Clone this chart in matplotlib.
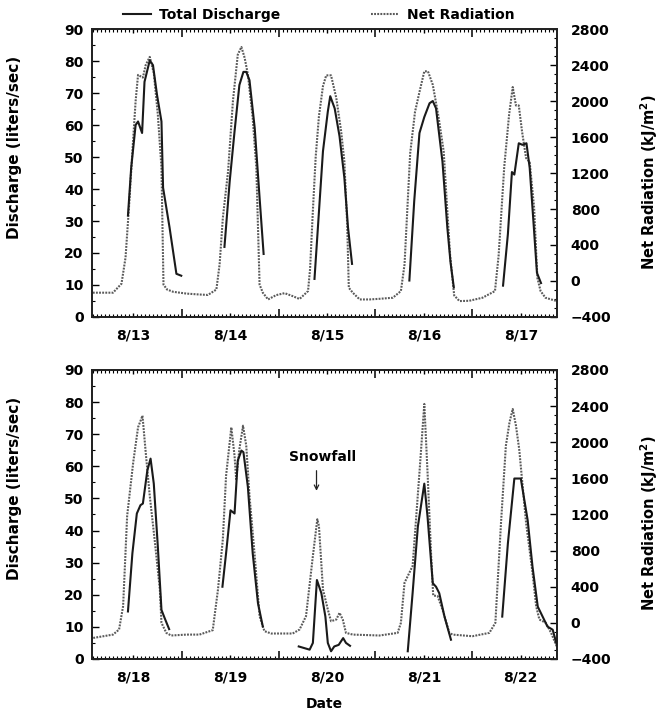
import numpy as np
import matplotlib
matplotlib.use("Agg")
import matplotlib.pyplot as plt
from matplotlib.ticker import MultipleLocator, FixedLocator
from matplotlib.lines import Line2D

plt.rcParams['font.family'] = ['DejaVu Sans']
plt.rcParams['font.weight'] = 'bold'

nan = np.nan

# ---------------- Top panel (8/13 - 8/17), hours from 8/13 00:00 ----------------
top_rad_hours = [2.0, 7.0, 9.1, 10.1, 11.0, 11.8, 12.6, 13.2, 14.4, 15.1, 16.1, 17.1, 18.1, 19.0, 19.5,
                 20.4, 21.9, 25.2, 28.4, 30.5, 32.6, 33.4, 34.2, 35.5, 36.7, 37.9, 38.8, 39.6, 40.4,
                 41.6, 42.5, 43.3, 44.1, 45.4, 47.4, 49.5, 51.5, 53.2, 55.3, 55.8, 56.5, 57.2, 58.0,
                 59.0, 59.8, 61.0, 62.3, 63.5, 64.3, 65.0, 65.4, 66.4, 68.1, 70.5, 73.0, 76.3, 78.3,
                 79.2, 80.6, 81.8, 82.9, 84.1, 85.0, 86.2, 87.6, 88.9, 89.6, 90.5, 91.5, 92.8, 95.2,
                 98.5, 101.6, 102.5, 103.9, 105.1, 106.0, 106.8, 107.5, 108.3, 109.3, 110.2, 111.3,
                 112.1, 112.9, 114.1, 116.9]
top_rad_vals = [-130, -130, -30, 260, 850, 1440, 2000, 2290, 2260, 2400, 2490, 2310, 1850, 1260, -40,
                -95, -120, -140, -150, -155, -95, 185, 700, 1220, 2000, 2515, 2600, 2480, 2295,
                1810, 1256, -40, -130, -205, -157, -135, -168, -200, -112, 130, 780, 1380, 1830,
                2165, 2285, 2285, 2033, 1663, 1330, 627, -75, -131, -205, -205, -198, -186, -112,
                183, 1420, 1880, 2100, 2330, 2330, 2180, 1830, 1440, 923, 280, -160, -223, -220,
                -186, -112, 280, 1270, 1848, 2155, 1950, 1950, 1663, 1367, 1320, 812,
                35, -112, -186, -223]

top_q_hours = [10.7, 11.5, 12.6, 13.2, 14.2, 14.8, 16.1, 16.9, 17.9, 19.0, 19.4, 21.0, 22.7, 23.9, nan,
               34.6, 35.9, 37.1, 38.3, 39.3, 40.0, 40.8, 42.1, 43.3, 44.3, nan,
               56.9, 59.0, 60.2, 60.8, 61.9, 63.1, 64.3, 65.2, 66.2, nan,
               80.4, 81.6, 82.9, 84.1, 85.4, 86.2, 87.0, 88.6, 89.8, 90.6, 91.4, nan,
               103.6, 104.8, 105.8, 106.4, 107.5, 108.4, 109.4, 110.2, 111.2, 112.0, 113.0]
top_q_vals = [31.7, 46.6, 60.0, 61.1, 57.5, 73.5, 80.2, 78.7, 69.4, 61.1, 40.4, 28.0, 13.5, 12.9, nan,
              21.9, 42.4, 58.0, 72.5, 76.6, 76.6, 74.0, 59.0, 37.3, 19.7, nan,
              11.9, 51.8, 64.2, 69.0, 65.2, 56.5, 43.5, 28.0, 16.6, nan,
              11.4, 36.2, 57.5, 62.5, 66.8, 67.5, 65.2, 48.5, 28.0, 17.0, 9.3, nan,
              9.8, 25.9, 45.3, 44.5, 54.3, 53.8, 54.3, 46.6, 28.5, 13.8, 10.6]

# ---------------- Bottom panel (8/18 - 8/22), hours from 8/18 00:00 ----------------
bot_rad_hours = [2.1, 7.0, 8.5, 9.5, 10.5, 12.0, 13.2, 14.3, 15.1, 16.1, 17.3, 18.6, 19.0, 20.2, 21.4,
                 25.2, 28.4, 31.7, 33.0, 34.2, 35.0, 36.3, 37.1, 37.5, 38.3, 39.2, 40.0, 40.8, 42.1,
                 43.3, 44.5, 46.2, 51.5, 53.2, 54.8, 56.5, 57.6, 58.0, 59.0, 60.2, 61.0, 62.3, 63.1,
                 63.9, 64.7, 66.4, 73.0, 77.5, 78.3, 79.2, 81.2, 82.9, 84.1, 84.9, 85.8, 86.3, 87.4,
                 88.6, 90.3, 91.1, 96.0, 100.2, 101.7, 103.1, 104.3, 105.2, 106.0, 106.8, 107.6,
                 109.3, 110.9, 111.8, 112.6, 114.2, 115.5, 116.9]
bot_rad_vals = [-167, -130, -74, 185, 1184, 1776, 2165, 2294, 1887, 1406, 925, 370, 0, -111, -140,
                -130, -130, -81, 370, 925, 1628, 2165, 1850, 1591, 1924, 2183, 1961, 1406, 740,
                74, -92, -118, -118, -74, 74, 740, 1147, 1073, 370, 148, 18, 37, 111,
                37, -111, -130, -140, -111, 0, 444, 629, 1665, 2424, 1665, 740, 303, 296,
                148, -111, -130, -148, -111, 0, 1110, 1961, 2220, 2368, 2183, 1924,
                1110, 555, 185, 37, 0, -111, -260]

bot_q_hours = [10.7, 11.8, 12.9, 13.8, 14.4, 15.5, 16.3, 17.1, 18.1, 19.0, 19.8, 20.9, nan,
               34.1, 35.0, 36.1, 37.1, 37.9, 38.8, 39.3, 40.4, 41.6, 42.9, 44.1, nan,
               53.0, 55.7, 56.5, 57.5, 58.6, 59.6, 60.2, 61.0, 61.8, 62.9, 64.0, 64.7, 65.7, nan,
               80.0, 81.2, 82.5, 84.1, 84.9, 86.2, 87.0, 87.8, 89.1, 90.7, nan,
               103.4, 104.8, 106.4, 108.0, 109.7, 110.9, 112.2, 113.4, 114.6, 115.9, 116.9]
bot_q_vals = [14.8, 32.9, 45.3, 47.9, 48.4, 58.7, 62.4, 54.6, 35.0, 15.3, 12.7, 9.3, nan,
              22.5, 32.9, 46.3, 45.3, 61.8, 64.9, 64.4, 53.6, 32.9, 17.4, 10.1, nan,
              3.9, 2.9, 5.0, 24.6, 20.5, 13.2, 5.0, 2.4, 3.9, 4.4, 6.5, 5.0, 4.1, nan,
              2.4, 20.5, 41.2, 54.6, 44.3, 23.6, 22.5, 20.5, 13.2, 6.0, nan,
              13.2, 36.0, 56.2, 56.2, 43.2, 28.7, 16.3, 13.2, 10.1, 9.1, 4.5]

top_day_labels = ['8/13', '8/14', '8/15', '8/16', '8/17']
bot_day_labels = ['8/18', '8/19', '8/20', '8/21', '8/22']
q_ticks = [0, 10, 20, 30, 40, 50, 60, 70, 80, 90]
r_ticks = [-400, 0, 400, 800, 1200, 1600, 2000, 2400, 2800]

fig = plt.figure(figsize=(6.62, 7.18), dpi=100)
ax_top = fig.add_axes([0.139, 0.5585, 0.702, 0.4011])
ax_bot = fig.add_axes([0.139, 0.0822, 0.702, 0.4025])

q_color = '#1a1a1a'
r_color = '#5a5a5a'
r_style = (0, (0.9, 0.6))
fs = 10


def style_panel(ax, labels, q_h, q_v, r_h, r_v):
    ax2 = ax.twinx()
    ax2.plot(r_h, r_v, color=r_color, lw=1.5, linestyle=r_style, zorder=2)
    ax.plot(q_h, q_v, color=q_color, lw=1.5, zorder=3)
    ax.set_zorder(ax2.get_zorder() + 1)
    ax.patch.set_visible(False)

    ax.set_xlim(1.8, 116.9)
    ax.set_ylim(0, 90)
    ax2.set_ylim(-400, 2800)

    ax.set_yticks(q_ticks)
    ax.yaxis.set_minor_locator(MultipleLocator(5))
    ax2.set_yticks(r_ticks)
    ax2.yaxis.set_minor_locator(MultipleLocator(100))

    noon = [12 + 24 * i for i in range(len(labels))]
    ax.set_xticks(noon, labels)
    ax.xaxis.set_minor_locator(FixedLocator([h for h in range(0, 121) if h % 12 != 0]))
    ax.tick_params(axis='x', which='major', direction='in', length=3, width=1,
                   top=True, labelsize=fs, pad=8)
    ax.tick_params(axis='x', which='minor', direction='in', length=2.5, width=0.8, top=True)
    ax.tick_params(axis='y', which='major', direction='in', length=5, width=1,
                   labelsize=fs, pad=6, right=False)
    ax.tick_params(axis='y', which='minor', direction='in', length=2.5, width=0.8, right=False)
    ax2.tick_params(axis='y', which='major', direction='in', length=5, width=1,
                    labelsize=fs, pad=10)
    ax2.tick_params(axis='y', which='minor', direction='in', length=2, width=0.8)

    for loc in ['bottom', 'top']:
        sec = ax.secondary_xaxis(loc)
        sec.set_xticks([24 * i for i in range(1, 5)])
        sec.tick_params(direction='in', length=6, width=1.1, labelbottom=False,
                        labeltop=False)
        sec.spines[loc].set_visible(False)

    for a in (ax, ax2):
        for s in a.spines.values():
            s.set_linewidth(1.3)
            s.set_color('#222222')

    ax.set_ylabel('Discharge (liters/sec)', fontsize=fs + 1, fontweight='bold')
    ax.yaxis.set_label_coords(-0.151, 0.59)
    ax2.set_ylabel('Net Radiation (kJ/m$^{\\mathbf{2}}$)', fontsize=fs + 0.5,
                   fontweight='bold', rotation=90, va='top')
    ax2.yaxis.set_label_coords(1.176, 0.47)
    return ax2


ax2_top = style_panel(ax_top, top_day_labels, top_q_hours, top_q_vals, top_rad_hours, top_rad_vals)
ax2_bot = style_panel(ax_bot, bot_day_labels, bot_q_hours, bot_q_vals, bot_rad_hours, bot_rad_vals)

ax_bot.set_xlabel('Date', fontsize=fs, fontweight='bold', labelpad=9)

handles = [Line2D([], [], color=q_color, lw=1.5),
           Line2D([], [], color=r_color, lw=1.5, linestyle=r_style)]
leg = ax_top.legend(handles, ['Total Discharge', 'Net Radiation'], ncol=2, frameon=False,
                    loc='center', bbox_to_anchor=(0.488, 1.05),
                    handlelength=2.0, columnspacing=6.5, handletextpad=0.6,
                    prop={'weight': 'bold', 'size': fs})

ax_bot.text(58.9, 63.0, 'Snowfall', ha='center', va='center', fontsize=fs, fontweight='bold')
ax_bot.annotate('', xy=(57.4, 51.5), xytext=(57.4, 59.5),
                arrowprops=dict(arrowstyle='->', lw=0.9, color='#222222',
                                mutation_scale=8))

fig.savefig('out.png', dpi=100, facecolor='white')
